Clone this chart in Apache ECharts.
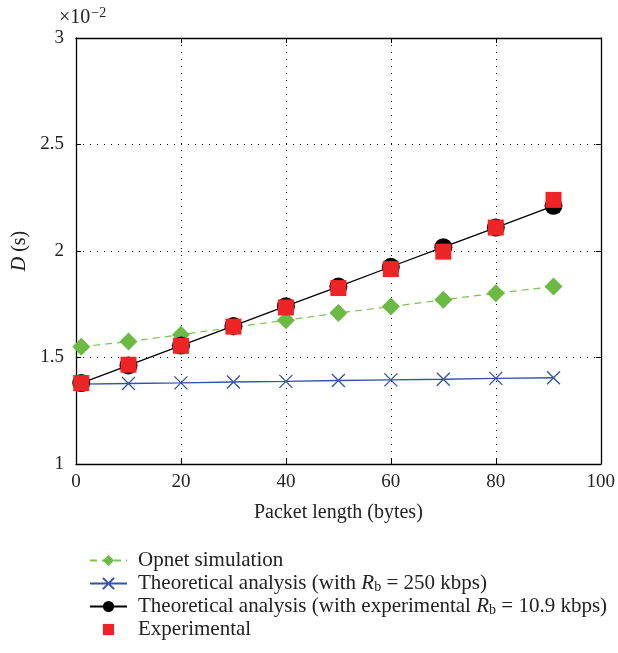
<!DOCTYPE html>
<html><head><meta charset="utf-8">
<script src="https://cdn.jsdelivr.net/npm/echarts@6/dist/echarts.min.js"></script>
<style>html,body{margin:0;padding:0;background:#fff}#c{width:618px;height:653px}</style>
</head><body><div id="c"></div>
<script>
var packetLength = [1, 10, 20, 30, 40, 50, 60, 70, 80, 91];
var opnetSim = [1.55, 1.575, 1.607, 1.642, 1.675, 1.709, 1.739, 1.771, 1.802, 1.833];
var theoRb250 = [1.375, 1.378, 1.381, 1.385, 1.388, 1.392, 1.395, 1.398, 1.402, 1.405];
var theoRbExp = [1.38, 1.463, 1.556, 1.648, 1.741, 1.833, 1.926, 2.018, 2.110, 2.212];
var experimental = [1.38, 1.466, 1.555, 1.645, 1.735, 1.826, 1.915, 1.997, 2.11, 2.24];
var seriesNames = ['Opnet simulation', 'Theoretical analysis (with Rb = 250 kbps)', 'Theoretical analysis (with experimental Rb = 10.9 kbps)', 'Experimental'];

function pairs(ys){ return packetLength.map(function(x,i){ return [x, ys[i]]; }); }
var F = 'Liberation Serif';
var C = '#222';
var chart = echarts.init(document.getElementById('c'), null, {renderer:'canvas'});
var cross = 'path://M0,0L10,10M10,0L0,10';
var axisBase = {
  axisLine:{show:true, onZero:false, lineStyle:{color:'#000', width:1.3}},
  axisTick:{show:true, inside:true, length:5, lineStyle:{color:'#000', width:1}},
};
var LF = 20, GF = 21;
chart.setOption({
  animation:false,
  title:{text:'{a|×10}{b|−2}', left:54, top:1, textStyle:{fontWeight:'normal', rich:{
    a:{fontFamily:F, fontSize:20, color:C, fontWeight:'normal'},
    b:{fontFamily:F, fontSize:14, color:C, fontWeight:'normal', verticalAlign:'top', padding:[0,0,10,1]}}}},
  grid:{left:76, right:15, top:38, bottom:189},
  legend:{orient:'vertical', left:84, top:545, itemGap:2, itemWidth:37, itemHeight:14,
    data:seriesNames,
    textStyle:{fontFamily:F, fontSize:GF, color:C, padding:[0,0,0,6],
      rich:{i:{fontFamily:F, fontSize:GF, fontStyle:'italic', color:C},
            s:{fontFamily:F, fontSize:14, color:C, verticalAlign:'bottom', padding:[7,0,0,0]},
            t:{fontFamily:F, fontSize:GF, color:C}}},
    formatter:function(n){
      if(n===seriesNames[1]) return '{t|Theoretical analysis (with }{i|R}{s|b}{t| = 250 kbps)}';
      if(n===seriesNames[2]) return '{t|Theoretical analysis (with experimental }{i|R}{s|b}{t| = 10.9 kbps)}';
      return n;
    }},
  xAxis:[
    Object.assign({type:'value', min:0, max:100, interval:20, position:'bottom',
      name:'Packet length (bytes)', nameLocation:'middle', nameGap:39,
      nameTextStyle:{fontFamily:F, fontSize:LF, color:C},
      axisLabel:{fontFamily:F, fontSize:19, color:C, margin:9},
      splitLine:{show:true, lineStyle:{color:'#000', type:[1,6], width:1}}}, axisBase),
    Object.assign({type:'value', min:0, max:100, interval:20, position:'top',
      axisLabel:{show:false}, splitLine:{show:false}}, axisBase)
  ],
  yAxis:[
    Object.assign({type:'value', min:1, max:3, interval:0.5, position:'left',
      name:'{i|D} (s)', nameLocation:'middle', nameGap:37, nameRotate:90,
      nameTextStyle:{fontFamily:F, fontSize:LF, color:C, rich:{i:{fontFamily:F, fontSize:LF, fontStyle:'italic', color:C}}},
      axisLabel:{fontFamily:F, fontSize:19, color:C, margin:12},
      splitLine:{show:true, lineStyle:{color:'#000', type:[1,6], width:1}}}, axisBase),
    Object.assign({type:'value', min:1, max:3, interval:0.5, position:'right',
      axisLabel:{show:false}, splitLine:{show:false}}, axisBase)
  ],
  series:[
    {name:seriesNames[0], type:'line', data:pairs(opnetSim), symbol:'diamond', symbolSize:18,
      itemStyle:{color:'#6cb944'}, lineStyle:{color:'#7cc350', width:1.2, type:[7,5]}, z:3},
    {name:seriesNames[1], type:'line', data:pairs(theoRb250), symbol:cross, symbolSize:13,
      itemStyle:{color:'none', borderColor:'#3553a5', borderWidth:1.3}, lineStyle:{color:'#3553a5', width:1.3}, z:3},
    {name:seriesNames[2], type:'line', data:pairs(theoRbExp), symbol:'circle', symbolSize:18,
      itemStyle:{color:'#000'}, lineStyle:{color:'#000', width:1.3}, z:4},
    {name:seriesNames[3], type:'line', data:pairs(experimental), symbol:'rect', symbolSize:16,
      itemStyle:{color:'#ee2427'}, lineStyle:{width:0, opacity:0}, z:5}
  ]
});
</script></body></html>
